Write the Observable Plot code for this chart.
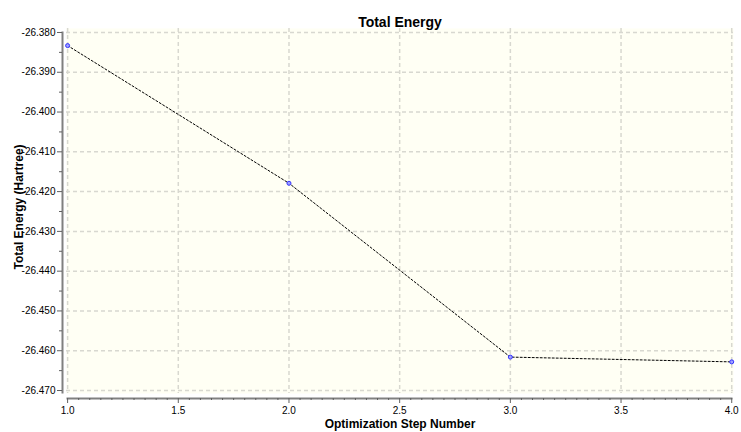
<!DOCTYPE html>
<html>
<head>
<meta charset="utf-8">
<script src="https://cdn.jsdelivr.net/npm/d3@7"></script>
<script src="https://cdn.jsdelivr.net/npm/@observablehq/plot@0.6"></script>
<style>
  html, body { margin: 0; padding: 0; background: #fff; }
  svg { font-family: "Liberation Sans", Arial, sans-serif; }
</style>
</head>
<body>
<div id="chart"></div>
<script>
const steps = [1, 2, 3, 4];
const energies = [-26.3833, -26.4179, -26.4616, -26.4628];
const xTicks = [1.0, 1.5, 2.0, 2.5, 3.0, 3.5, 4.0];
const yTicks = [-26.470, -26.460, -26.450, -26.440, -26.430, -26.420, -26.410, -26.400, -26.390, -26.380];
const xMinor = d3.range(1, 4.0001, 0.05).map(v => +v.toFixed(2)).filter(v => !xTicks.some(t => Math.abs(t - v) < 1e-9));
const yMinor = d3.range(-26.475, -26.3801, 0.01).map(v => +(v).toFixed(3)).filter(v => v >= -26.4701);
const title = "Total Energy";
const xLabel = "Optimization Step Number";
const yLabel = "Total Energy (Hartree)";

const data = steps.map((s, i) => ({step: s, energy: energies[i]}));
const fmtY = d => d.toFixed(3);
const fmtX = d => d.toFixed(1);

const chart = Plot.plot({
  width: 741,
  height: 432,
  marginLeft: 66,
  marginRight: 8,
  marginTop: 28,
  marginBottom: 39,
  style: {fontFamily: "Liberation Sans, Arial, sans-serif", fontSize: "10px", color: "#000", background: "#fff"},
  x: {domain: [0.995, 4.008]},
  y: {domain: [-26.47075, -26.379]},
  marks: [
    Plot.frame({fill: "#fffff4", stroke: null}),
    Plot.gridX(xTicks, {stroke: "#d8d8d0", strokeOpacity: 1, strokeWidth: 1.5, strokeDasharray: "4,3"}),
    Plot.gridY(yTicks, {stroke: "#d8d8d0", strokeOpacity: 1, strokeWidth: 1.5, strokeDasharray: "4,3"}),
    // axis lines
    Plot.frame({anchor: "left", stroke: "#808080", strokeWidth: 2, dx: -4, insetTop: 4, insetBottom: 1}),
    Plot.frame({anchor: "bottom", stroke: "#808080", strokeWidth: 2, dy: 5, insetLeft: 1, insetRight: 2}),
    // y axis
    Plot.axisY(yTicks, {tickSize: 5, dx: -4, tickPadding: 2, tickFormat: fmtY, stroke: "#606060", fontSize: 10, label: null}),
    Plot.axisY(yMinor, {tickSize: 3, dx: -4, text: null, stroke: "#606060", label: null}),
    // x axis
    Plot.axisX(xTicks, {tickSize: 5, dy: 5, tickPadding: 3, tickFormat: fmtX, stroke: "#606060", fontSize: 10, label: null}),
    Plot.axisX(xMinor, {tickSize: 2, dy: 5, text: null, stroke: "#606060", label: null}),
    // data
    Plot.line(data, {x: "step", y: "energy", stroke: "#000", strokeWidth: 1, strokeDasharray: "2,2"}),
    Plot.dot(data, {x: "step", y: "energy", r: 2, stroke: "#3030ff", fill: "#a0a0ff", strokeWidth: 1}),
    // titles
    Plot.text([title], {frameAnchor: "top", dy: -11, fontSize: 14, fontWeight: "bold", fill: "#000"}),
    Plot.text([xLabel], {frameAnchor: "bottom", dy: 34, fontSize: 12, fontWeight: "bold", fill: "#000"}),
    Plot.text([yLabel], {frameAnchor: "left", textAnchor: "middle", dx: -47, dy: -4, rotate: -90, fontSize: 12, fontWeight: "bold", fill: "#000"})
  ]
});
document.getElementById("chart").appendChild(chart);
</script>
</body>
</html>
